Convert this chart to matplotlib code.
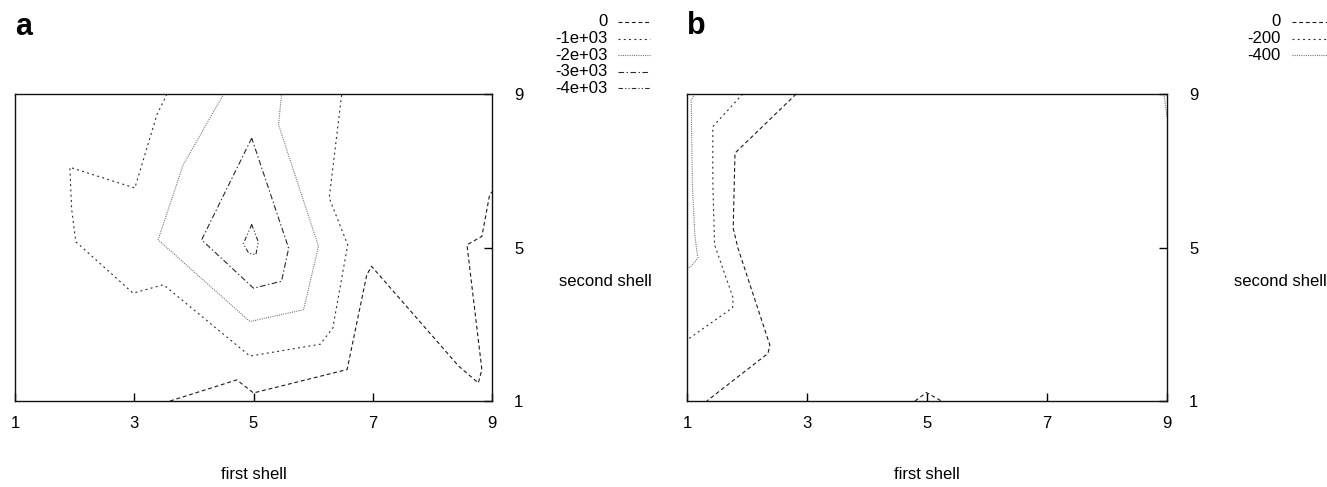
import matplotlib
matplotlib.use("Agg")
import matplotlib.pyplot as plt
from matplotlib.lines import Line2D

plt.rcParams["font.family"] = ["Liberation Sans", "DejaVu Sans"]
plt.rcParams["lines.scale_dashes"] = False

# ---- panel a: contour levels and traced contour lines (first shell, second shell)
a_levels = ["0", "-1e+03", "-2e+03", "-3e+03", "-4e+03"]

a_c0_x = [3.60, 4.72, 5.00, 6.57, 6.90, 6.98, 8.44, 8.77, 8.83, 8.58, 8.83, 8.96, 9.00]
a_c0_y = [1.00, 1.55, 1.21, 1.82, 4.29, 4.51, 1.91, 1.47, 1.82, 5.07, 5.29, 6.37, 6.45]

a_c1_x = [3.55, 3.38, 3.01, 1.92, 1.95, 2.02, 2.98, 3.49, 4.94, 6.12, 6.33, 6.58, 6.27, 6.48]
a_c1_y = [9.00, 8.46, 6.55, 7.09, 6.00, 5.15, 3.81, 4.03, 2.17, 2.48, 2.90, 5.07, 6.29, 9.00]

a_c2_x = [4.50, 3.82, 3.40, 4.94, 5.84, 6.09, 5.42, 5.47]
a_c2_y = [9.00, 7.15, 5.20, 3.07, 3.38, 5.03, 8.20, 9.00]

a_c3_x = [4.97, 4.13, 5.00, 5.47, 5.59, 4.97]
a_c3_y = [7.85, 5.20, 3.94, 4.12, 4.98, 7.85]

a_c4_x = [4.97, 4.83, 4.92, 5.04, 5.08, 4.97]
a_c4_y = [5.60, 5.10, 4.85, 4.81, 5.15, 5.60]

# ---- panel b
b_levels = ["0", "-200", "-400"]

b_c0_x = [2.82, 1.80, 1.77, 1.85, 2.38, 2.35, 1.33]
b_c0_y = [9.00, 7.46, 5.50, 4.98, 2.46, 2.24, 1.00]
b_c0_bump_x = [4.80, 4.99, 5.24]
b_c0_bump_y = [1.00, 1.22, 1.00]

b_c1_x = [1.93, 1.43, 1.43, 1.46, 1.77, 1.76, 1.00]
b_c1_y = [9.00, 8.15, 6.70, 5.07, 3.68, 3.43, 2.59]

b_c2_x = [1.13, 1.07, 1.09, 1.13, 1.18, 1.06, 1.00]
b_c2_y = [9.00, 8.85, 6.63, 5.33, 4.72, 4.50, 4.45]
b_c2_edge_x = [8.95, 9.00]
b_c2_edge_y = [9.00, 8.40]

x_ticks = [1, 3, 5, 7, 9]
y_ticks = [1, 5, 9]

# gnuplot-like monochrome line types, one per level index
line_types = [
    dict(dashes=(2.8, 2.0), color="#1a1a1a"),
    dict(dashes=(1.4, 2.4), color="#2a2a2a"),
    dict(dashes=(0.7, 0.9), color="#666666"),
    dict(dashes=(4.0, 1.8, 1.0, 1.8), color="#2a2a2a"),
    dict(dashes=(3.2, 1.6, 0.8, 1.6, 0.8, 1.6), color="#2a2a2a"),
]

W, H = 1327, 487


def setup_axes(ax):
    ax.set_xlim(1, 9)
    ax.set_ylim(1, 9)
    ax.set_xticks(x_ticks)
    ax.set_yticks(y_ticks)
    ax.yaxis.tick_right()
    ax.tick_params(axis="x", direction="in", length=6, width=1, pad=11, labelsize=12)
    ax.tick_params(axis="y", direction="in", length=6, width=1, pad=16, labelsize=12,
                   left=False, right=True, labelleft=False, labelright=True)
    for s in ax.spines.values():
        s.set_linewidth(1.0)
        s.set_color("#111111")
    ax.text(1.14, 0.39, "second shell", transform=ax.transAxes, fontsize=12,
            ha="left", va="center")
    ax.text(0.5, -0.238, "first shell", transform=ax.transAxes, fontsize=12,
            ha="center", va="center")


def add_key(fig, labels, text_right, x0, x1, rows):
    for i, lab in enumerate(labels):
        y = 1 - rows[i] / H
        fig.text(text_right / W, y, lab, fontsize=12, ha="right", va="center")
        fig.add_artist(Line2D([x0 / W, x1 / W], [y, y], lw=0.8, **line_types[i]))


fig = plt.figure(figsize=(W / 100, H / 100), dpi=100)

ax_a = fig.add_axes([15 / W, 86 / H, 477 / W, 307 / H])
setup_axes(ax_a)
a_lines = [(a_c0_x, a_c0_y, 0), (a_c1_x, a_c1_y, 1), (a_c2_x, a_c2_y, 2),
           (a_c3_x, a_c3_y, 3), (a_c4_x, a_c4_y, 4)]
for xs, ys, k in a_lines:
    ax_a.plot(xs, ys, lw=0.8, **line_types[k])

ax_b = fig.add_axes([687 / W, 86 / H, 480 / W, 307 / H])
setup_axes(ax_b)
b_lines = [(b_c0_x, b_c0_y, 0), (b_c0_bump_x, b_c0_bump_y, 0), (b_c1_x, b_c1_y, 1),
           (b_c2_x, b_c2_y, 2), (b_c2_edge_x, b_c2_edge_y, 2)]
for xs, ys, k in b_lines:
    ax_b.plot(xs, ys, lw=0.8, clip_on=False, **line_types[k])

fig.text(15 / W, 1 - 35 / H, "a", fontsize=22, fontweight="bold", ha="left", va="baseline")
fig.text(687 / W, 1 - 34 / H, "b", fontsize=22, fontweight="bold", ha="left", va="baseline")

add_key(fig, a_levels, 608, 618, 650, [21.9, 38.5, 55.1, 71.7, 88.3])
add_key(fig, b_levels, 1281, 1292, 1327, [22.0, 38.5, 55.1])

fig.savefig("out.png", dpi=100)
